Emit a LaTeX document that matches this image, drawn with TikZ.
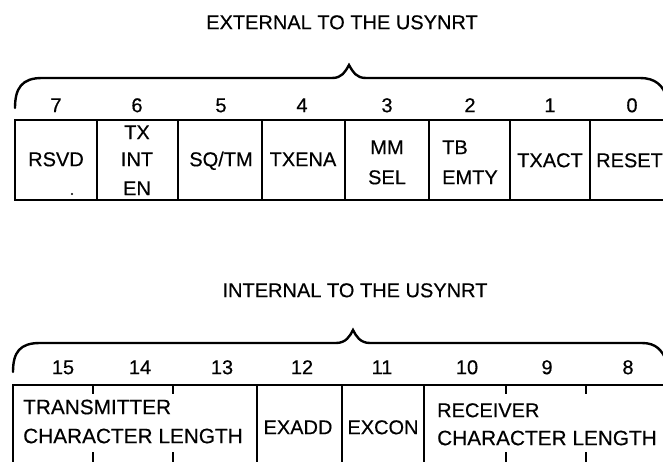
\documentclass[tikz,border=0pt]{standalone}
\usepackage{fontspec}
\setmainfont{Liberation Sans}[FakeBold=0.4]
\begin{document}
\begin{tikzpicture}[x=1pt,y=-1pt,
  txt/.style={inner sep=0pt, text height=14.4pt, text depth=0pt, font=\fontsize{20}{24}\selectfont},
  wide/.style={txt, font=\fontsize{20.8}{24}\selectfont},
  reg/.style={line width=2pt},
  bracestyle/.style={line width=2.4pt, line cap=round}]
\useasboundingbox (0,0) rectangle (663,462);
\clip (0,0) rectangle (663,462);
% ---------- top register ----------
\node[txt] (ext) at (342,22) {EXTERNAL TO THE USYNRT};
\draw[bracestyle] (15,108) .. controls (15,88) and (22,78) .. (42,78) -- (332,78)
  .. controls (342,78) and (345,72) .. (349,65) .. controls (353,72) and (356,78) .. (366,78)
  -- (640,78) .. controls (655,78) and (663,85) .. (667,98);
\draw[reg] (15,120) rectangle (690,200);
\foreach \x in {97,178,262,345,429,510,590} \draw[reg] (\x,120) -- (\x,200);
\node[txt] (t7) at (56,105) {7};
\node[txt] (t6) at (137,105) {6};
\node[txt] (t5) at (221,105) {5};
\node[txt] (t4) at (302,105) {4};
\node[txt] (t3) at (387,105) {3};
\node[txt] (t2) at (470,105) {2};
\node[txt] (t1) at (550,105) {1};
\node[txt] (t0) at (632,105) {0};
\node[txt] (rsvd) at (56,159) {RSVD};
\fill (72,194) circle (1.1pt);
\node[txt] (tx) at (137,132) {TX};
\node[txt] (int) at (137,159) {INT};
\node[txt] (en) at (137,188) {EN};
\node[txt] (sqtm) at (221,159) {SQ/TM};
\node[txt] (txena) at (303,159) {TXENA};
\node[txt] (mm) at (387,147) {MM};
\node[txt] (sel) at (387,177) {SEL};
\node[txt,anchor=west] (tb) at (442,147) {TB};
\node[txt,anchor=west] (emty) at (442,177) {EMTY};
\node[txt] (txact) at (550,160) {TXACT};
\node[txt,anchor=west] (reset) at (596,160) {RESET};
% ---------- bottom register ----------
\node[txt] (intl) at (355,290) {INTERNAL TO THE USYNRT};
\draw[bracestyle] (13,372) .. controls (13,352) and (20,343) .. (40,343) -- (336,343)
  .. controls (346,343) and (350,336) .. (353,330) .. controls (356,336) and (360,343) .. (370,343)
  -- (642,343) .. controls (656,343) and (662,350) .. (667,362);
\draw[reg] (13,475) -- (13,385) -- (690,385);
\foreach \x in {257,342,424} \draw[reg] (\x,385) -- (\x,475);
\foreach \x in {93,173,506,586} {\draw[reg] (\x,385) -- (\x,394); \draw[reg] (\x,452) -- (\x,475);}
\node[txt] (b15) at (63,367) {15};
\node[txt] (b14) at (140,367) {14};
\node[txt] (b13) at (222,367) {13};
\node[txt] (b12) at (302,367) {12};
\node[txt] (b11) at (382,367) {11};
\node[txt] (b10) at (467,367) {10};
\node[txt] (b9) at (547,367) {9};
\node[txt] (b8) at (628,367) {8};
\node[wide,anchor=west] (trans) at (23,407) {TRANSMITTER};
\node[wide,anchor=west] (tcl) at (23,436) {CHARACTER LENGTH};
\node[txt] (exadd) at (298,427) {EXADD};
\node[txt] (excon) at (383,427) {EXCON};
\node[txt,anchor=west] (recv) at (437,410) {RECEIVER};
\node[wide,anchor=west] (rcl) at (437,438) {CHARACTER LENGTH};
\end{tikzpicture}
\end{document}
